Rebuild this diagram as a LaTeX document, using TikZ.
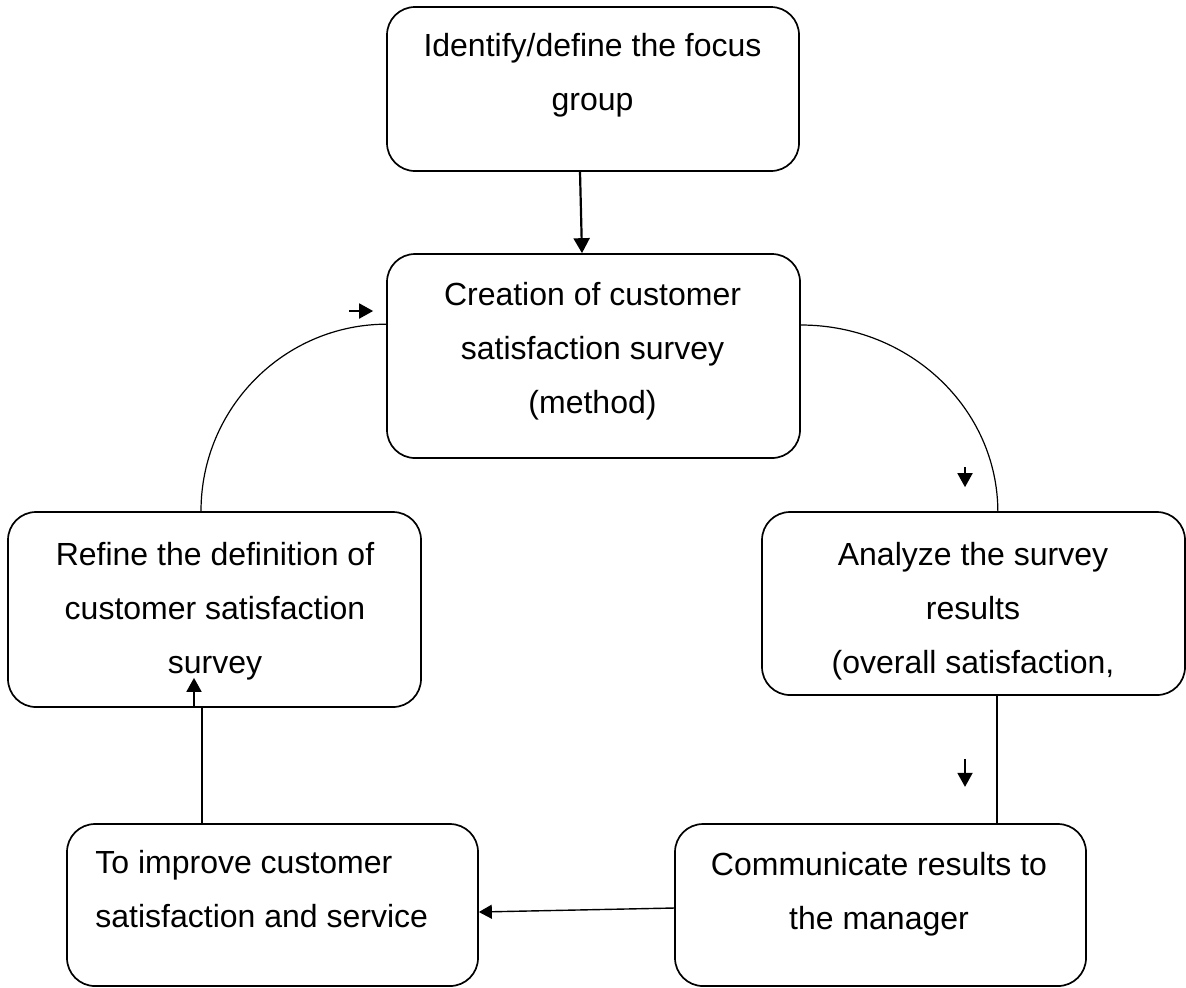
\documentclass[tikz,border=0pt]{standalone}
\usepackage{fontspec}
\setmainfont{Liberation Sans}
\usetikzlibrary{arrows.meta}

\begin{document}
\begin{tikzpicture}[x=0.5pt,y=-0.5pt,
  box/.style={draw, line width=0.85pt, rounded corners=14pt, inner sep=0pt},
  txt/.style={font=\fontsize{16}{27}\selectfont, align=center, inner sep=0pt, anchor=north},
  link/.style={line width=0.7pt},
  curveline/.style={line width=0.6pt},
  tip/.style={-{Triangle[width=7.5pt,length=7pt]}, line width=0.9pt},
]
\useasboundingbox (0,0) rectangle (1186,987);

% process boxes
\node[box, minimum width=206pt,   minimum height=82pt]   (b1) at (593,89)      {};
\node[box, minimum width=206.5pt, minimum height=102pt]  (b2) at (593.5,356)   {};
\node[box, minimum width=206.5pt, minimum height=97.5pt] (b3) at (214.5,609.5) {};
\node[box, minimum width=211.5pt, minimum height=91.5pt] (b4) at (973.5,603.5) {};
\node[box, minimum width=205.5pt, minimum height=81pt]   (b5) at (272.5,905)   {};
\node[box, minimum width=205.5pt, minimum height=81pt]   (b6) at (880.5,905)   {};

% box texts
\node[txt] (t1) at (592.5,33)  {Identify/define the focus\\group};
\node[txt] (t2) at (592.5,282) {Creation of customer\\satisfaction survey\\(method)};
\node[txt] (t3) at (215,542)   {Refine the definition of\\customer satisfaction\\survey};
\node[txt] (t4) at (973,542)   {Analyze the survey\\results\\(overall satisfaction,};
\node[txt, anchor=north west, align=left] (t5) at (95,850) {To improve customer\\satisfaction and service};
\node[txt] (t6) at (879,852)   {Communicate results to\\the manager};

% connectors
\draw[-{Triangle[width=8pt,length=7.5pt]}, line width=1.1pt]
  ([xshift=-6.5pt]b1.south) -- ([xshift=-5.75pt]b2.north);

\draw[curveline] ([yshift=15.5pt]b2.east)
  arc[start angle=90, end angle=0, x radius=98.5pt, y radius=93.5pt];
\draw[tip] ([shift={(-4.25pt,22pt)}]b4.north) -- ([shift={(-4.25pt,12pt)}]b4.north);

\draw[curveline] ([xshift=-6.75pt]b3.north)
  arc[start angle=180, end angle=90, x radius=93pt, y radius=93.5pt];
\draw[tip] ([shift={(-18.5pt,22.5pt)}]b2.west) -- ([shift={(-6.5pt,22.5pt)}]b2.west);

\draw[link] ([xshift=11.75pt]b4.south) -- ([xshift=58.25pt]b6.north);
\draw[tip] ([shift={(-4.25pt,-31.5pt)}]b4.south) -- ([shift={(-4.25pt,-45.5pt)}]b4.south);

\draw[link, -{Triangle[width=7pt,length=6.5pt]}] ([yshift=-1.5pt]b6.west) -- ([yshift=-3.5pt]b5.east);

\draw[link] ([xshift=-35.25pt]b5.north) -- ([xshift=-6.25pt]b3.south);
\draw[tip] ([xshift=-10.25pt]b3.south) -- ([shift={(-10.25pt,15pt)}]b3.south);
\end{tikzpicture}
\end{document}
